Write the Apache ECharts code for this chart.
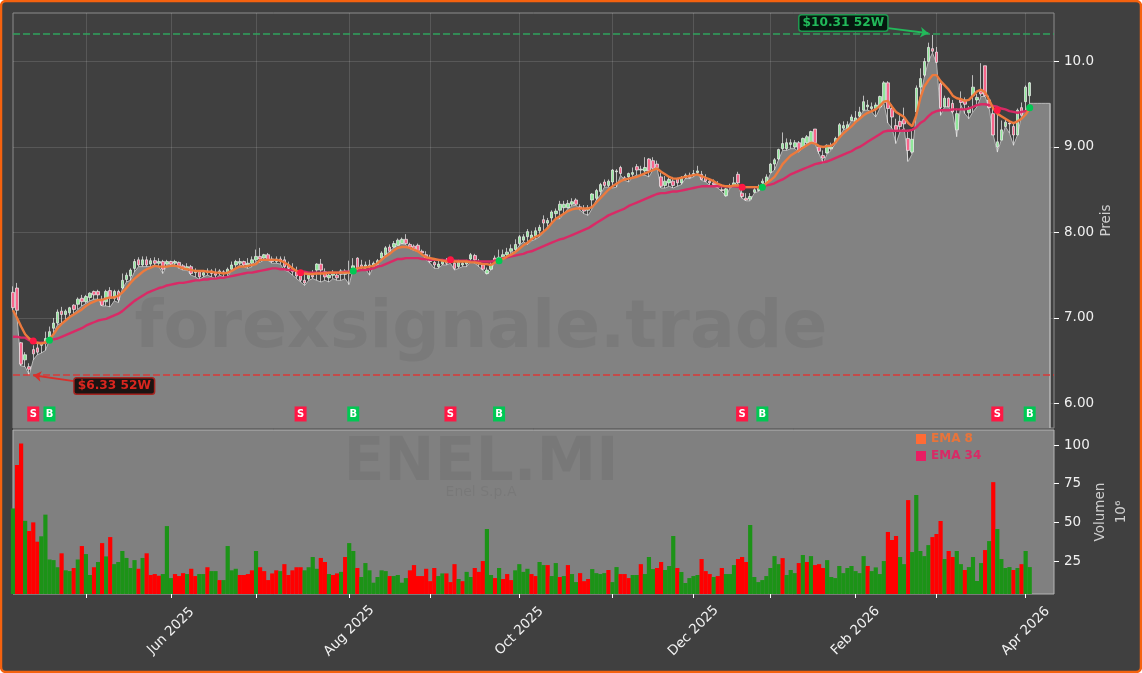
<!DOCTYPE html>
<html lang="en">
<head>
    <meta charset="UTF-8">
    <title>ENEL.MI</title>
    <script src="https://cdn.jsdelivr.net/npm/echarts@6/dist/echarts.min.js"></script>
    <style>
        html, body { margin: 0; padding: 0; background: #fff; }
    </style>
</head>
<body>
<div id="main" style="width: 1142px;height: 673px"></div>
</body>
<script>
    var monthTicks = [18, 39, 60, 83, 103, 125, 148, 168, 187, 208, 228, 250];
    var monthLabels = {39: "Jun 2025", 83: "Aug 2025", 125: "Oct 2025", 168: "Dec 2025", 208: "Feb 2026", 250: "Apr 2026"};
    var priceTicks = [6, 7, 8, 9, 10];
    var volumeTicks = [25, 50, 75, 100];

    var opens = [
        7.30,7.35,6.71,6.51,6.43,6.63,6.65,6.68,6.70,6.76,
        6.88,6.94,7.08,7.04,7.06,7.15,7.16,7.23,7.19,7.24,
        7.31,7.31,7.22,7.19,7.32,7.23,7.31,7.35,7.45,7.49,
        7.58,7.68,7.62,7.68,7.63,7.67,7.64,7.66,7.63,7.66,
        7.64,7.65,7.61,7.58,7.60,7.53,7.54,7.50,7.53,7.55,
        7.52,7.52,7.54,7.52,7.57,7.62,7.64,7.66,7.62,7.64,
        7.68,7.72,7.70,7.74,7.69,7.66,7.69,7.68,7.62,7.58,
        7.55,7.49,7.44,7.46,7.50,7.56,7.63,7.54,7.47,7.50,
        7.50,7.51,7.51,7.52,7.58,7.70,7.62,7.60,7.60,7.61,
        7.63,7.70,7.74,7.83,7.83,7.85,7.87,7.92,7.86,7.84,
        7.85,7.78,7.74,7.70,7.65,7.60,7.63,7.68,7.69,7.64,
        7.60,7.62,7.63,7.69,7.73,7.66,7.62,7.52,7.57,7.70,
        7.68,7.71,7.74,7.78,7.80,7.87,7.91,7.95,7.93,7.96,
        8.02,8.15,8.11,8.17,8.22,8.26,8.29,8.29,8.33,8.38,
        8.30,8.27,8.26,8.38,8.40,8.48,8.59,8.55,8.59,8.71,
        8.76,8.64,8.65,8.68,8.77,8.73,8.72,8.86,8.84,8.80,
        8.65,8.55,8.58,8.60,8.63,8.58,8.64,8.67,8.67,8.70,
        8.68,8.64,8.60,8.58,8.56,8.50,8.43,8.53,8.55,8.68,
        8.46,8.40,8.39,8.47,8.49,8.58,8.58,8.70,8.80,8.86,
        8.98,8.98,9.03,9.00,9.05,9.00,9.05,9.06,9.21,9.00,
        8.90,8.93,8.98,9.05,9.12,9.22,9.22,9.31,9.30,9.36,
        9.43,9.47,9.45,9.45,9.47,9.52,9.75,9.45,9.25,9.30,
        9.32,9.10,8.94,9.41,9.70,9.84,10.00,10.15,10.11,9.74,
        9.47,9.57,9.51,9.20,9.55,9.55,9.40,9.60,9.55,9.65,
        9.95,9.55,9.39,9.00,9.08,9.24,9.28,9.24,9.14,9.46,9.53,9.60
    ];
    var closes = [
        7.12,7.09,6.46,6.57,6.40,6.58,6.60,6.70,6.76,6.84,
        6.94,7.07,7.04,7.08,7.12,7.10,7.22,7.19,7.25,7.29,
        7.27,7.27,7.15,7.31,7.23,7.31,7.21,7.44,7.50,7.56,
        7.66,7.62,7.68,7.62,7.67,7.64,7.66,7.57,7.66,7.63,
        7.66,7.61,7.58,7.60,7.52,7.55,7.48,7.53,7.55,7.52,
        7.50,7.55,7.52,7.57,7.62,7.66,7.66,7.62,7.64,7.68,
        7.72,7.69,7.74,7.68,7.66,7.69,7.66,7.60,7.58,7.54,
        7.49,7.44,7.41,7.50,7.48,7.63,7.56,7.48,7.50,7.52,
        7.47,7.55,7.55,7.55,7.61,7.58,7.60,7.62,7.62,7.64,
        7.67,7.76,7.82,7.78,7.87,7.91,7.92,7.87,7.83,7.81,
        7.79,7.76,7.70,7.66,7.62,7.63,7.66,7.64,7.65,7.58,
        7.65,7.64,7.66,7.74,7.68,7.63,7.57,7.56,7.62,7.67,
        7.71,7.74,7.77,7.81,7.86,7.95,7.95,8.01,7.97,8.02,
        8.06,8.11,8.14,8.24,8.25,8.33,8.33,8.34,8.36,8.33,
        8.28,8.25,8.29,8.45,8.49,8.56,8.55,8.60,8.73,8.72,
        8.69,8.62,8.69,8.70,8.73,8.74,8.76,8.72,8.75,8.76,
        8.54,8.60,8.62,8.55,8.58,8.64,8.67,8.64,8.69,8.72,
        8.62,8.60,8.58,8.56,8.53,8.49,8.51,8.54,8.58,8.58,
        8.42,8.38,8.42,8.50,8.53,8.60,8.65,8.80,8.85,8.97,
        9.04,9.05,9.05,9.05,8.96,9.10,9.12,9.18,9.05,8.95,
        8.87,9.02,9.00,9.10,9.26,9.25,9.26,9.35,9.34,9.41,
        9.53,9.49,9.47,9.49,9.59,9.75,9.45,9.35,9.20,9.24,
        9.27,8.96,9.09,9.69,9.80,10.00,10.165,10.12,9.99,9.46,
        9.57,9.47,9.41,9.39,9.52,9.50,9.45,9.70,9.58,9.62,
        9.60,9.46,9.14,9.06,9.20,9.29,9.27,9.14,9.43,9.37,9.70,9.75
    ];
    var highs = [
        7.37,7.41,6.72,6.60,6.47,6.68,6.70,6.72,6.84,6.90,
        7.00,7.10,7.13,7.10,7.13,7.16,7.24,7.27,7.27,7.30,
        7.32,7.33,7.26,7.33,7.36,7.33,7.33,7.52,7.53,7.58,
        7.69,7.71,7.72,7.72,7.70,7.71,7.70,7.68,7.68,7.67,
        7.68,7.66,7.63,7.64,7.62,7.58,7.56,7.56,7.58,7.57,
        7.58,7.57,7.56,7.59,7.66,7.68,7.70,7.67,7.70,7.72,
        7.80,7.82,7.75,7.76,7.72,7.72,7.72,7.72,7.66,7.64,
        7.60,7.53,7.52,7.53,7.56,7.64,7.69,7.58,7.53,7.56,
        7.53,7.57,7.57,7.67,7.70,7.71,7.68,7.66,7.68,7.66,
        7.69,7.78,7.84,7.86,7.90,7.93,7.94,7.98,7.88,7.86,
        7.87,7.80,7.78,7.74,7.68,7.68,7.69,7.70,7.71,7.68,
        7.68,7.66,7.68,7.76,7.75,7.69,7.64,7.59,7.65,7.73,
        7.80,7.80,7.82,7.86,7.92,7.97,7.98,8.04,8.02,8.06,
        8.09,8.20,8.17,8.26,8.28,8.37,8.37,8.38,8.40,8.40,
        8.33,8.32,8.32,8.46,8.51,8.58,8.62,8.62,8.74,8.74,
        8.78,8.66,8.70,8.76,8.80,8.78,8.88,8.87,8.88,8.84,
        8.70,8.66,8.66,8.65,8.64,8.66,8.69,8.70,8.73,8.78,
        8.72,8.68,8.63,8.62,8.60,8.56,8.52,8.57,8.65,8.71,
        8.55,8.46,8.46,8.54,8.56,8.63,8.68,8.81,8.87,8.98,
        9.17,9.10,9.09,9.08,9.07,9.11,9.14,9.19,9.21,9.02,
        8.96,9.03,9.05,9.12,9.28,9.30,9.30,9.38,9.42,9.47,
        9.60,9.55,9.52,9.52,9.60,9.77,9.77,9.50,9.33,9.38,
        9.46,9.20,9.20,9.72,9.92,10.04,10.22,10.31,10.17,9.76,
        9.60,9.58,9.55,9.45,9.65,9.58,9.48,9.84,9.62,9.98,
        9.95,9.60,9.45,9.39,9.31,9.33,9.30,9.27,9.45,9.52,9.72,9.76
    ];
    var lows = [
        7.09,7.00,6.44,6.43,6.33,6.51,6.57,6.59,6.62,6.74,
        6.82,6.92,6.94,6.98,7.02,7.05,7.10,7.14,7.17,7.20,
        7.22,7.22,7.14,7.14,7.13,7.20,7.18,7.34,7.42,7.44,
        7.54,7.60,7.60,7.60,7.60,7.62,7.60,7.52,7.62,7.62,
        7.62,7.58,7.56,7.56,7.50,7.48,7.45,7.48,7.50,7.48,
        7.46,7.50,7.48,7.48,7.56,7.58,7.62,7.60,7.58,7.60,
        7.66,7.65,7.68,7.67,7.64,7.64,7.63,7.56,7.54,7.50,
        7.46,7.42,7.38,7.44,7.46,7.44,7.42,7.44,7.42,7.46,
        7.44,7.44,7.46,7.39,7.58,7.56,7.56,7.58,7.50,7.60,
        7.62,7.70,7.74,7.78,7.82,7.85,7.87,7.86,7.81,7.79,
        7.78,7.74,7.68,7.64,7.58,7.58,7.62,7.62,7.64,7.56,
        7.58,7.60,7.60,7.66,7.64,7.60,7.56,7.51,7.56,7.66,
        7.66,7.70,7.72,7.76,7.78,7.85,7.89,7.86,7.90,7.92,
        7.95,8.00,8.07,8.12,8.16,8.16,8.22,8.28,8.31,8.32,
        8.26,8.22,8.20,8.28,8.38,8.44,8.53,8.53,8.52,8.53,
        8.67,8.61,8.59,8.65,8.67,8.67,8.67,8.65,8.73,8.75,
        8.52,8.52,8.54,8.52,8.54,8.56,8.63,8.63,8.65,8.69,
        8.61,8.59,8.55,8.54,8.52,8.48,8.42,8.52,8.55,8.57,
        8.40,8.37,8.37,8.46,8.48,8.57,8.57,8.69,8.73,8.85,
        8.96,8.96,8.98,8.98,8.94,9.00,9.04,9.06,9.04,8.92,
        8.81,8.92,8.96,9.04,9.12,9.20,9.22,9.31,9.30,9.35,
        9.43,9.43,9.41,9.35,9.45,9.51,9.28,9.22,9.04,9.18,
        9.22,8.83,8.92,9.39,9.59,9.82,10.00,10.10,9.98,9.37,
        9.47,9.47,9.39,9.12,9.49,9.39,9.33,9.41,9.47,9.59,
        9.59,9.45,9.14,8.94,9.08,9.24,9.16,9.02,9.14,9.37,9.43,9.51
    ];
    var areaTail = [9.51, 9.51, 9.51, 9.51, 9.51];

    var ema8 = [
        7.09,7.00,6.90,6.81,6.76,6.72,6.71,6.70,6.715,6.75,
        6.81,6.88,6.93,6.97,7.01,7.04,7.07,7.10,7.14,7.17,
        7.19,7.21,7.21,7.23,7.24,7.24,7.26,7.30,7.35,7.41,
        7.46,7.50,7.54,7.57,7.59,7.61,7.60,7.60,7.60,7.61,
        7.61,7.60,7.58,7.57,7.56,7.55,7.55,7.55,7.54,7.54,
        7.53,7.53,7.52,7.53,7.55,7.58,7.60,7.60,7.61,7.62,
        7.63,7.68,7.68,7.68,7.68,7.68,7.67,7.65,7.62,7.58,
        7.55,7.53,7.52,7.515,7.515,7.52,7.52,7.52,7.53,7.53,
        7.53,7.53,7.53,7.53,7.56,7.58,7.59,7.59,7.60,7.61,
        7.64,7.68,7.72,7.75,7.79,7.82,7.83,7.83,7.82,7.80,
        7.78,7.74,7.71,7.70,7.69,7.68,7.67,7.66,7.66,7.66,
        7.66,7.66,7.66,7.65,7.65,7.64,7.63,7.63,7.62,7.65,
        7.67,7.69,7.72,7.74,7.77,7.81,7.85,7.88,7.92,7.95,
        7.97,8.01,8.05,8.11,8.16,8.19,8.22,8.25,8.27,8.28,
        8.28,8.28,8.28,8.30,8.35,8.40,8.45,8.50,8.54,8.57,
        8.60,8.62,8.63,8.64,8.65,8.67,8.69,8.71,8.73,8.75,
        8.71,8.68,8.65,8.63,8.63,8.64,8.65,8.66,8.67,8.68,
        8.66,8.64,8.62,8.60,8.57,8.55,8.54,8.54,8.55,8.55,
        8.53,8.53,8.53,8.53,8.53,8.53,8.575,8.61,8.65,8.72,
        8.80,8.85,8.90,8.93,8.96,8.99,9.02,9.05,9.04,9.01,
        9.00,9.01,9.015,9.05,9.11,9.16,9.20,9.24,9.29,9.33,
        9.37,9.40,9.42,9.44,9.48,9.53,9.54,9.47,9.41,9.38,
        9.35,9.28,9.24,9.37,9.57,9.71,9.78,9.84,9.84,9.77,
        9.72,9.67,9.60,9.57,9.56,9.54,9.55,9.60,9.65,9.67,
        9.64,9.55,9.45,9.39,9.36,9.33,9.30,9.28,9.30,9.33,9.38,9.45
    ];
    var ema34 = [
        6.78,6.78,6.77,6.77,6.74,6.72,6.71,6.71,6.71,6.74,
        6.75,6.76,6.78,6.80,6.82,6.84,6.86,6.88,6.91,6.93,
        6.95,6.97,6.98,6.99,7.01,7.03,7.05,7.08,7.12,7.16,
        7.20,7.23,7.26,7.29,7.31,7.33,7.35,7.36,7.38,7.39,
        7.40,7.41,7.41,7.42,7.43,7.44,7.44,7.45,7.45,7.46,
        7.46,7.47,7.47,7.48,7.49,7.50,7.51,7.52,7.53,7.53,
        7.54,7.55,7.56,7.57,7.58,7.58,7.57,7.57,7.56,7.56,
        7.55,7.54,7.54,7.53,7.53,7.53,7.53,7.53,7.53,7.53,
        7.53,7.53,7.54,7.54,7.55,7.55,7.56,7.56,7.57,7.58,
        7.60,7.61,7.63,7.65,7.67,7.69,7.69,7.70,7.70,7.70,
        7.70,7.69,7.69,7.68,7.68,7.68,7.68,7.67,7.67,7.67,
        7.67,7.67,7.67,7.66,7.66,7.66,7.66,7.66,7.66,7.67,
        7.68,7.70,7.71,7.72,7.73,7.74,7.75,7.77,7.78,7.80,
        7.82,7.84,7.86,7.88,7.90,7.92,7.93,7.95,7.97,7.99,
        8.01,8.03,8.05,8.08,8.11,8.14,8.17,8.20,8.22,8.24,
        8.26,8.28,8.31,8.33,8.35,8.37,8.39,8.41,8.43,8.45,
        8.46,8.46,8.47,8.48,8.48,8.49,8.50,8.51,8.52,8.53,
        8.54,8.54,8.54,8.54,8.54,8.54,8.54,8.54,8.54,8.535,
        8.535,8.53,8.53,8.53,8.53,8.54,8.55,8.56,8.575,8.60,
        8.62,8.65,8.68,8.70,8.72,8.74,8.76,8.78,8.80,8.81,
        8.82,8.83,8.85,8.87,8.89,8.91,8.93,8.95,8.98,9.00,
        9.03,9.06,9.09,9.12,9.15,9.18,9.19,9.19,9.19,9.19,
        9.19,9.19,9.20,9.23,9.28,9.31,9.36,9.40,9.42,9.43,
        9.43,9.43,9.44,9.44,9.44,9.44,9.45,9.47,9.49,9.50,
        9.50,9.49,9.48,9.47,9.45,9.44,9.42,9.41,9.40,9.41,9.42,9.43
    ];

    var volumes = [
        59,87,101,51,44.4,50,37.5,41,55,26,
        25.6,21,30,19,18.5,20.5,26,34.7,29.5,16,
        21,24.4,36.6,28,40.5,23,24.4,31.5,27,20.5,
        25.6,20,27,30,16,16.6,15.5,16.6,47.6,14,
        16.6,15.3,17.2,16.6,20,15.3,16.6,16.6,21,18.5,
        18.5,12.7,12.7,34.7,19,20,16,16,16.6,19,
        31.5,21,18.5,12.7,17,19,18.5,23,16,19,
        21,21,19,21,27.6,20,27,24.4,16.6,16,
        17,18,27.6,36.6,31.5,20.5,14.7,23.7,19,11,
        14.7,19,18.5,15.3,15.3,16,11,14,19,22.4,
        15.3,15.3,20,12,20.5,15.3,17,17,11.4,23,
        13.4,12,18,14.7,20.5,18,25,45.7,16,14,
        20.5,13.4,16.6,12.7,19,23,18,20,16.6,15.3,
        24.4,22.4,22.4,15.3,23.7,14.7,15.3,22.4,16.6,11.4,
        17.2,12,13.4,19.8,17.2,16.6,17.2,19.2,11.4,21.1,
        16.6,16.6,14,16,16,23,16.6,27.6,19.8,20.5,
        24.4,19.2,21.8,41.2,20.5,17.9,10.8,14,15.3,16,
        26.3,18.5,16.6,14.7,15.3,20.5,16.6,16.6,22.4,26.3,
        27.6,24.4,48.3,14.7,11.4,12.7,15.3,20.5,28.2,23,
        26.9,16,19.2,17.2,23.7,28.9,24.4,28.2,22.4,23,
        20.5,25.6,14.7,14,21.8,17.2,20.5,21.8,18.5,17.2,
        28.2,21.8,18.5,20.9,16.6,25,43.8,38.6,41.2,27.6,
        23,64.4,30.8,67.7,31.5,28.2,35.3,40.5,42.5,50.9,
        26.3,31.5,27.6,31.5,23,19.2,21.1,27.6,12.1,23.7,
        32.1,37.9,76,45.7,26.3,20.5,21.1,19.2,20.5,23,31.5,21.1
    ];
    // g = green bar, r = red bar
    var volumeSides = (
        "grrgrrrggg" + "ggrggrgrgg" + "rgrgrggggg" + "grgrrrrggg" +
        "rrrgrrggrg" + "grggggrrrr" + "grrrrrgrrr" + "rrggggrrgr" +
        "rgrggrgggg" + "gggrggggrr" + "rrrrrggrrr" + "grggrrrggr" +
        "grrrggggrr" + "ggrggrgrgg" + "rrrggggrgg" + "rrrggrgggr" +
        "rgggrggggg" + "rrrgrrgggr" + "rrgggggggg" + "rgggrgrgrr" +
        "rggggggggg" + "grggggrrrg" + "grgggggrrr" + "grrggrgggg" +
        "rgrggggrgrgg"
    ).split("");

    var sellIndex = [5, 71, 108, 180, 243];
    var sellPrice = [6.73, 7.53, 7.68, 8.53, 9.43];
    var buyIndex = [9, 84, 120, 185, 251];
    var buyPrice = [6.74, 7.55, 7.67, 8.53, 9.46];
    var badgePrice = 5.877;

    var high52 = 10.31;
    var low52 = 6.33;

    var tickSet = {};
    monthTicks.forEach(function (t) { tickSet[t] = true; });
    var categories = [];
    for (var i = 0; i < 258; i++) {
        categories.push(String(i));
    }
    function isMonthTick(index) {
        return tickSet[index] === true;
    }
    function isLabelTick(index) {
        return monthLabels[index] !== undefined;
    }

    var candles = opens.map(function (o, i) {
        return [o, closes[i], lows[i], highs[i]];
    });
    var volumeBars = volumes.map(function (v, i) {
        return {value: v, itemStyle: {color: volumeSides[i] === "g" ? "#1c9317" : "#ff0000"}};
    });
    function pairs(xs, ys) {
        return xs.map(function (x, i) { return [x, ys[i]]; });
    }
    function badges(xs) {
        return xs.map(function (x) { return [x, badgePrice]; });
    }
    function boxLabel(color, back, border) {
        return {
            show: true,
            position: "inside",
            color: color,
            fontFamily: "DejaVu Sans",
            fontWeight: "bold",
            fontSize: 12.2,
            backgroundColor: back,
            borderColor: border,
            borderWidth: 1.5,
            borderRadius: 2,
            padding: [2, 3, 1, 3],
            formatter: "{b}"
        };
    }

    var myChart = echarts.init(document.getElementById("main"));
    myChart.setOption({
        animation: false,
        backgroundColor: "transparent",
        graphic: [
            {type: "rect", z: -10, shape: {x: 1, y: 1, width: 1140, height: 671, r: 5},
                style: {fill: "#404040", stroke: "#f5620f", lineWidth: 2.5}},
            {type: "text", z: 50, x: 481, y: 330, style: {text: "forexsignale.trade", fill: "rgba(0,0,0,0.06)",
                font: "bold 66.5px 'DejaVu Sans'", align: "center", verticalAlign: "middle"}},
            {type: "text", z: 50, x: 481, y: 464, style: {text: "ENEL.MI", fill: "rgba(0,0,0,0.06)",
                font: "bold 60px 'DejaVu Sans'", align: "center", verticalAlign: "middle"}},
            {type: "text", z: 50, x: 481, y: 492, style: {text: "Enel S.p.A", fill: "rgba(0,0,0,0.06)",
                font: "14px 'DejaVu Sans'", align: "center", verticalAlign: "middle"}}
        ],
        legend: {
            left: 911,
            top: 428,
            orient: "vertical",
            itemWidth: 10,
            itemHeight: 10,
            itemGap: 5,
            icon: "rect",
            inactiveColor: "#888",
            selectedMode: false,
            data: [
                {name: "EMA 8", textStyle: {color: "#e8743a", fontFamily: "DejaVu Sans", fontWeight: "bold", fontSize: 12}},
                {name: "EMA 34", textStyle: {color: "#d92a66", fontFamily: "DejaVu Sans", fontWeight: "bold", fontSize: 12}}
            ]
        },
        grid: [
            {left: 13, top: 13, width: 1041, height: 415, show: true, outerBoundsMode: "none", backgroundColor: "transparent", borderColor: "#8c8c8c", borderWidth: 1},
            {left: 13, top: 430, width: 1041, height: 164, show: true, outerBoundsMode: "none", backgroundColor: "#808080", borderColor: "#b4b4b4", borderWidth: 1}
        ],
        xAxis: [
            {
                type: "category", gridIndex: 0, data: categories, boundaryGap: false,
                axisLine: {show: false}, axisTick: {show: false}, axisLabel: {show: false},
                splitLine: {show: true, interval: isMonthTick, lineStyle: {color: "rgba(255,255,255,0.13)", width: 1}}
            },
            {
                type: "category", gridIndex: 1, data: categories, boundaryGap: false,
                axisLine: {show: false},
                axisTick: {show: true, interval: isMonthTick, length: 4, lineStyle: {color: "#fff", width: 1}},
                axisLabel: {
                    show: true,
                    interval: isLabelTick,
                    rotate: 45,
                    align: "center",
                    verticalAlign: "middle",
                    margin: 37,
                    color: "#f0f0f0",
                    fontFamily: "DejaVu Sans",
                    fontSize: 13.5,
                    formatter: function (value, index) {
                        return monthLabels[index] || "";
                    }
                },
                splitLine: {show: false}
            }
        ],
        yAxis: [
            {
                type: "value", gridIndex: 0, position: "right", min: 5.713, max: 10.567, scale: true,
                name: "Preis", nameLocation: "middle", nameRotate: 90, nameGap: 45, nameMoveOverlap: false,
                nameTextStyle: {color: "#cfcfcf", fontFamily: "DejaVu Sans", fontSize: 13.5},
                axisLine: {show: false},
                axisTick: {show: true, customValues: priceTicks, length: 5, lineStyle: {color: "#fff"}},
                axisLabel: {
                    show: true, customValues: priceTicks, margin: 10, color: "#f0f0f0",
                    fontFamily: "DejaVu Sans", fontSize: 13.5,
                    formatter: function (v) { return v >= 10 ? v.toFixed(1) : v.toFixed(2); }
                },
                splitLine: {show: true, lineStyle: {color: "rgba(255,255,255,0.13)", width: 1}}
            },
            {
                type: "value", gridIndex: 1, position: "right", min: 3.7, max: 109.7,
                name: "Volumen\n10⁶", nameLocation: "middle", nameRotate: 90, nameGap: 36, nameMoveOverlap: false,
                nameTextStyle: {color: "#cfcfcf", fontFamily: "DejaVu Sans", fontSize: 13.5, lineHeight: 21},
                axisLine: {show: false},
                axisTick: {show: true, customValues: volumeTicks, length: 5, lineStyle: {color: "#fff"}},
                axisLabel: {
                    show: true, customValues: volumeTicks, margin: 10, color: "#f0f0f0",
                    fontFamily: "DejaVu Sans", fontSize: 13.5
                },
                splitLine: {show: false}
            }
        ],
        series: [
            {
                name: "Lows",
                type: "line",
                data: lows.concat(areaTail),
                symbol: "none",
                z: 2,
                lineStyle: {color: "#b8b8b8", width: 1},
                areaStyle: {color: "#828282", opacity: 1},
                markLine: {
                    silent: true, symbol: "none", label: {show: false},
                    lineStyle: {color: "#b8b8b8", width: 1.5, type: "solid"},
                    data: [[{coord: [256, areaTail[0]]}, {coord: [256, 5.713]}]]
                }
            },
            {
                name: "Candles",
                type: "candlestick",
                data: candles,
                barWidth: 3,
                z: 3,
                itemStyle: {
                    color: "#90e89a",
                    color0: "#f8668c",
                    borderColor: "#f0f0f0",
                    borderColor0: "#f0f0f0",
                    borderWidth: 0.7
                }
            },
            {
                name: "EMA 34",
                type: "line",
                data: ema34,
                symbol: "none",
                z: 4,
                lineStyle: {color: "#d92a66", width: 2.4},
                itemStyle: {color: "#e91e63"},
                markLine: {
                    silent: true, label: {show: false}, symbol: "none", animation: false,
                    data: [
                        {yAxis: high52 + 0.015, lineStyle: {color: "#2fa35c", type: [7, 3], width: 1.6}},
                        {yAxis: low52, lineStyle: {color: "#d93a38", type: [7, 3], width: 1.6}},
                        [{coord: [216, 10.39], symbol: "none", lineStyle: {color: "#22b95a", type: "solid", width: 1.8}},
                            {coord: [225.7, 10.33], symbol: "arrow", symbolSize: 8}],
                        [{coord: [14.5, 6.26], symbol: "none", lineStyle: {color: "#d9302c", type: "solid", width: 1.8}},
                            {coord: [5, 6.33], symbol: "arrow", symbolSize: 8}]
                    ]
                },
                markPoint: {
                    silent: true,
                    symbol: "circle",
                    symbolSize: 1,
                    itemStyle: {color: "transparent"},
                    data: [
                        {name: "$" + high52.toFixed(2) + " 52W", coord: [204.5, 10.45], label: boxLabel("#22b95a", "#06180f", "#1f9a50")},
                        {name: "$" + low52.toFixed(2) + " 52W", coord: [25.2, 6.205], label: boxLabel("#d9261f", "#1c1412", "#a52420")}
                    ]
                }
            },
            {
                name: "EMA 8",
                type: "line",
                data: ema8,
                symbol: "none",
                z: 5,
                lineStyle: {color: "#ed7a3d", width: 2.4},
                itemStyle: {color: "#ff6b35"}
            },
            {
                name: "Sell cross", type: "scatter", data: pairs(sellIndex, sellPrice), z: 6,
                symbol: "circle", symbolSize: 7, itemStyle: {color: "#ff1744", opacity: 1}
            },
            {
                name: "Buy cross", type: "scatter", data: pairs(buyIndex, buyPrice), z: 6,
                symbol: "circle", symbolSize: 7, itemStyle: {color: "#00c853", opacity: 1}
            },
            {
                name: "Sell", type: "scatter", data: badges(sellIndex), z: 6,
                symbol: "rect", symbolSize: [12, 15], itemStyle: {color: "#ff1744", opacity: 1},
                label: {show: true, position: "inside", formatter: "S", color: "#fff",
                    fontFamily: "DejaVu Sans", fontWeight: "bold", fontSize: 10}
            },
            {
                name: "Buy", type: "scatter", data: badges(buyIndex), z: 6,
                symbol: "rect", symbolSize: [12, 15], itemStyle: {color: "#00c853", opacity: 1},
                label: {show: true, position: "inside", formatter: "B", color: "#fff",
                    fontFamily: "DejaVu Sans", fontWeight: "bold", fontSize: 10}
            },
            {
                name: "Volumen", type: "bar", xAxisIndex: 1, yAxisIndex: 1,
                data: volumeBars, barWidth: 4.2, z: 2
            }
        ]
    });
</script>
</html>
